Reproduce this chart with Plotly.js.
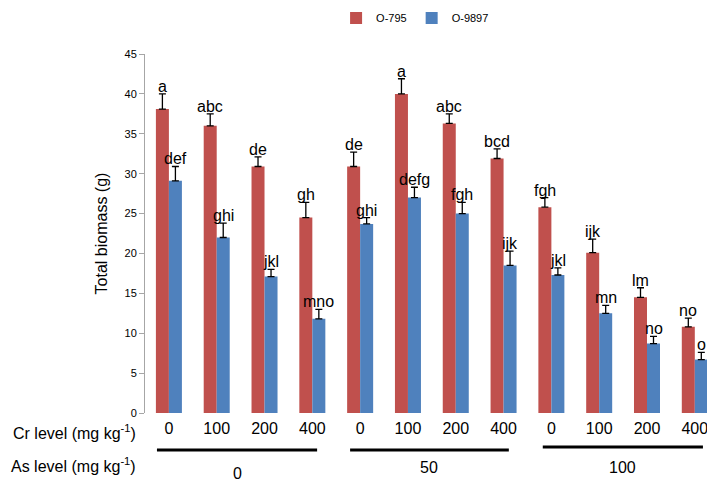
<!DOCTYPE html>
<html>
<head>
<meta charset="utf-8">
<script src="https://cdn.plot.ly/plotly-3.0.1.min.js"></script>
<style>html,body{margin:0;padding:0;background:#fff;}#chart{width:707px;height:481px;}</style>
</head>
<body>
<div id="chart"></div>
<script>
// Data
const crLevels = ['0','100','200','400','0','100','200','400','0','100','200','400'];
const asLevels = ['0','50','100'];
const seriesNames = ['O-795','O-9897'];
const o795 = [38.1, 36.0, 30.9, 24.5, 30.9, 40.0, 36.3, 31.9, 25.8, 20.1, 14.5, 10.8];
const o795Err = [1.9, 1.5, 1.2, 1.9, 1.8, 1.9, 1.2, 1.2, 1.2, 1.7, 1.2, 1.1];
const o9897 = [29.1, 22.0, 17.1, 11.8, 23.7, 27.0, 25.0, 18.5, 17.3, 12.5, 8.7, 6.7];
const o9897Err = [1.8, 1.8, 0.9, 1.2, 0.8, 1.3, 1.4, 1.8, 0.9, 1.0, 0.9, 0.9];
const o795Letters = ['a','abc','de','gh','de','a','abc','bcd','fgh','ijk','lm','no'];
const o9897Letters = ['def','ghi','jkl','mno','ghi','defg','fgh','ijk','jkl','mn','no','o'];

const idx = crLevels.map((_, i) => i);
const narrow = 'Liberation Sans Narrow, Arial Narrow, Liberation Sans, Arial, sans-serif';
const red = '#C0504D', blue = '#4F81BD';
const bargap = 0.456;
const off = (1 - bargap) / 4;

const traces = [
  {type:'bar', name: seriesNames[0], x: idx, y: o795, marker:{color: red},
   error_y:{type:'data', array:o795Err, arrayminus:o795Err.map(()=>0), symmetric:false, color:'#000', thickness:1.3, width:3.5}},
  {type:'bar', name: seriesNames[1], x: idx, y: o9897, marker:{color: blue},
   error_y:{type:'data', array:o9897Err, arrayminus:o9897Err.map(()=>0), symmetric:false, color:'#000', thickness:1.3, width:3.5}}
];

const annotations = [];
idx.forEach(i => {
  annotations.push({x: i - off, y: o795[i] + o795Err[i], xref:'x', yref:'y', text: o795Letters[i], showarrow:false,
    yanchor:'bottom', xanchor:'center', yshift:-3, font:{family:narrow, size:16, color:'#000'}});
  annotations.push({x: i + off, y: o9897[i] + o9897Err[i], xref:'x', yref:'y', text: o9897Letters[i], showarrow:false,
    yanchor:'bottom', xanchor:'center', yshift:-3, font:{family:narrow, size:16, color:'#000'}});
});
annotations.push({x:-0.012, y:-0.053, xref:'paper', yref:'paper', xanchor:'right', yanchor:'middle', showarrow:false,
  text:'Cr level (mg kg<sup>-1</sup>)', font:{family:narrow, size:16, color:'#000'}});
annotations.push({x:-0.012, y:-0.145, xref:'paper', yref:'paper', xanchor:'right', yanchor:'middle', showarrow:false,
  text:'As level (mg kg<sup>-1</sup>)', font:{family:narrow, size:16, color:'#000'}});

const groupSpans = [[-0.25, 3.1], [3.79, 7.11], [7.82, 11.17]];
const groupLabelY = [-0.168, -0.153, -0.153];
const lineY = [-0.103, -0.103, -0.095];
const shapes = [];
groupSpans.forEach((g, k) => {
  shapes.push({type:'line', xref:'x', yref:'paper', x0:g[0], x1:g[1], y0:lineY[k], y1:lineY[k], line:{color:'#000', width:3}});
  annotations.push({x:(g[0]+g[1])/2, y:groupLabelY[k], xref:'x', yref:'paper', xanchor:'center', yanchor:'middle', showarrow:false,
    text: asLevels[k], font:{family:narrow, size:16, color:'#000'}});
});

const layout = {
  width:707, height:481,
  margin:{l:145, r:0, t:54, b:68, pad:0},
  paper_bgcolor:'#fff', plot_bgcolor:'#fff',
  barmode:'group', bargap: bargap, bargroupgap:0,
  showlegend:true,
  legend:{orientation:'h', x:0.34, y:1.1, xanchor:'left', yanchor:'middle', font:{family:'Liberation Sans, Arial, sans-serif', size:11, color:'#000'}, itemwidth:30, tracegroupgap:0},
  xaxis:{range:[-0.5, 11.255], tickmode:'array', tickvals: idx, ticktext: crLevels, showline:false, showgrid:false, zeroline:false,
    ticks:'', ticklabelstandoff:4, ticklabeloverflow:'allow', tickfont:{family:narrow, size:16, color:'#000'}, fixedrange:true},
  yaxis:{range:[0,45], dtick:5, tick0:0, showline:true, linecolor:'#a6a6a6', linewidth:1, ticks:'outside', ticklen:5, tickcolor:'#a6a6a6',
    showgrid:false, zeroline:false, tickfont:{family:'Liberation Sans, Arial, sans-serif', size:11, color:'#000'},
    title:{text:'Total biomass (g)', font:{family:'Liberation Sans, Arial, sans-serif', size:16, color:'#000'}, standoff:12}},
  annotations: annotations,
  shapes: shapes
};

Plotly.newPlot('chart', traces, layout, {displayModeBar:false, staticPlot:true});
</script>
</body>
</html>
